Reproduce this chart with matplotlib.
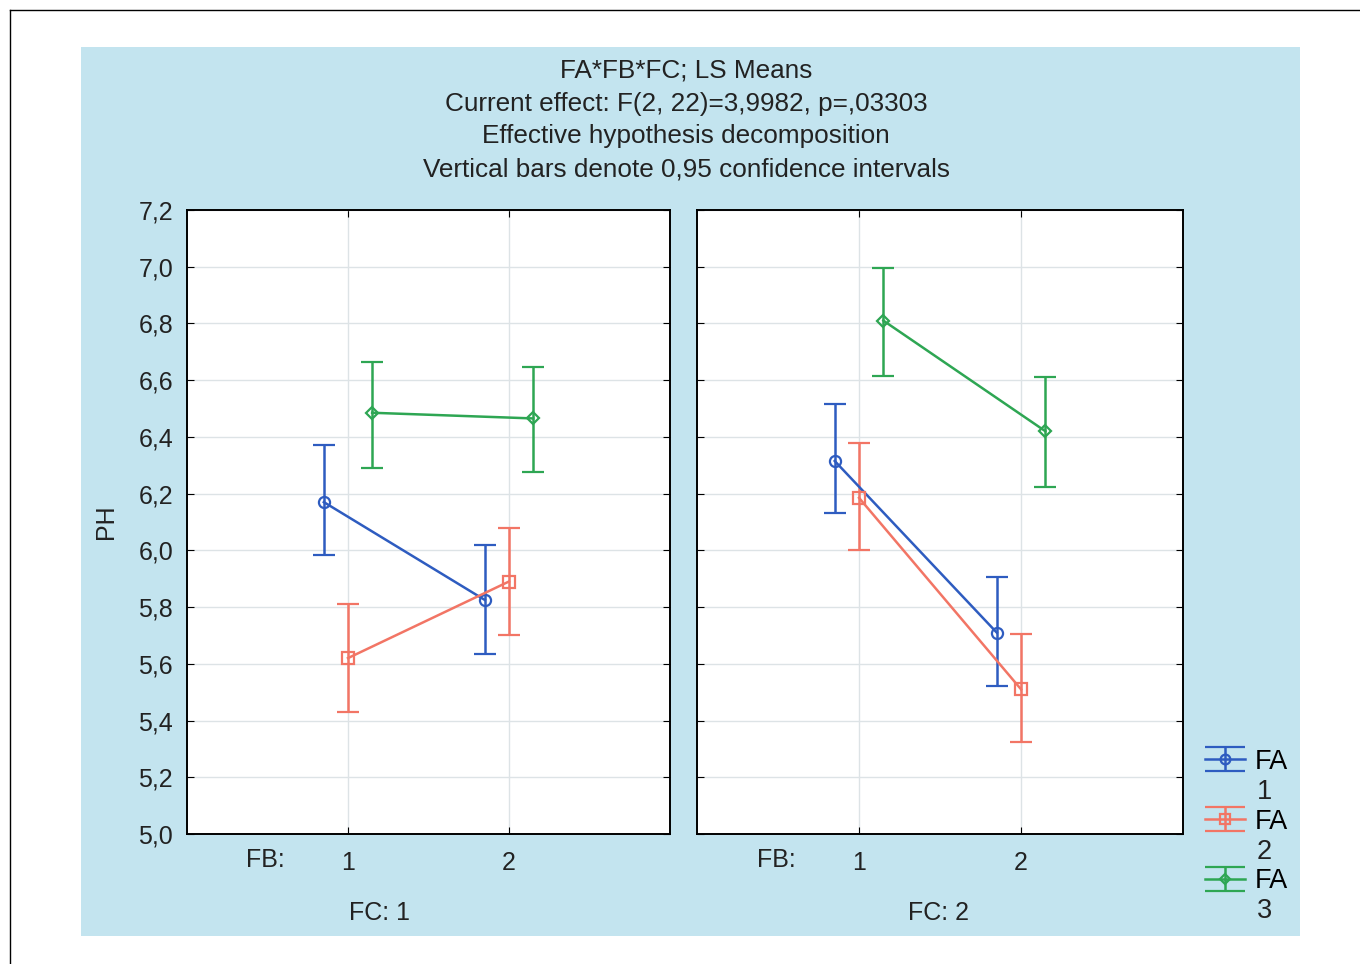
import numpy as np
import matplotlib.pyplot as plt
from matplotlib.lines import Line2D
from matplotlib.legend_handler import HandlerErrorbar

plt.rcParams['font.family'] = ['Liberation Sans', 'DejaVu Sans']

# Datos
fb_levels = [1, 2]
fc_levels = ["FC: 1", "FC: 2"]
fa_names = ["FA", "FA", "FA"]
fa_nums = ["1", "2", "3"]

# medias por FC -> FA -> FB
mean_fc1 = {"FA1": [6.17, 5.825], "FA2": [5.62, 5.89], "FA3": [6.485, 6.465]}
low_fc1 = {"FA1": [5.985, 5.635], "FA2": [5.43, 5.70], "FA3": [6.29, 6.275]}
up_fc1 = {"FA1": [6.37, 6.02], "FA2": [5.81, 6.08], "FA3": [6.665, 6.645]}

mean_fc2 = {"FA1": [6.315, 5.71], "FA2": [6.185, 5.51], "FA3": [6.81, 6.42]}
low_fc2 = {"FA1": [6.13, 5.52], "FA2": [6.0, 5.325], "FA3": [6.615, 6.225]}
up_fc2 = {"FA1": [6.515, 5.905], "FA2": [6.38, 5.705], "FA3": [6.995, 6.61]}

colores = {"FA1": "#2e5cc0", "FA2": "#f27565", "FA3": "#2ea653"}
marcadores = {"FA1": "o", "FA2": "s", "FA3": "D"}
desplaz = {"FA1": -0.15, "FA2": 0.0, "FA3": 0.15}

fondo = "#c3e4ef"
texto = "#222222"
fs = 18

fig = plt.figure(figsize=(13.6, 9.64), dpi=100)
fig.patch.set_facecolor("white")

# panel azul de fondo
bg = fig.add_axes([0.0596, 0.029, 0.8963, 0.9222], zorder=-5)
bg.set_facecolor(fondo)
bg.set_xticks([])
bg.set_yticks([])
for s in bg.spines.values():
    s.set_visible(False)

# borde negro
fig.lines.append(Line2D([0.0074, 1.0], [0.9896, 0.9896], transform=fig.transFigure,
                        color="black", lw=1.0))
fig.lines.append(Line2D([0.0074, 0.0074], [0.0, 0.9896], transform=fig.transFigure,
                        color="black", lw=1.0))

titulo = ("FA*FB*FC; LS Means\n"
          "Current effect: F(2, 22)=3,9982, p=,03303\n"
          "Effective hypothesis decomposition\n"
          "Vertical bars denote 0,95 confidence intervals")
fig.text(0.5045, 0.8755, titulo, ha="center", va="center", fontsize=18.8,
         linespacing=1.46, color=texto)

ax1 = fig.add_axes([0.1375, 0.1349, 0.3551, 0.6473])
ax2 = fig.add_axes([0.5125, 0.1349, 0.3574, 0.6473])

datos = [(ax1, mean_fc1, low_fc1, up_fc1), (ax2, mean_fc2, low_fc2, up_fc2)]
for ax, medias, bajos, altos in datos:
    ax.set_facecolor("white")
    ax.set_xlim(0, 3)
    ax.set_ylim(5.0, 7.2)
    ax.set_yticks(np.arange(5.0, 7.21, 0.2))
    ax.set_xticks(fb_levels)
    ax.grid(True, color="#dde3e6", lw=1.0)
    ax.set_axisbelow(True)
    for s in ax.spines.values():
        s.set_linewidth(1.4)
    ax.tick_params(axis="y", direction="in", length=5, right=True, labelsize=fs,
                   pad=10, labelcolor=texto)
    ax.tick_params(axis="x", direction="in", length=5, top=True, labelsize=fs,
                   pad=12, labelcolor=texto)
    for fa in ["FA1", "FA2", "FA3"]:
        x = np.array(fb_levels) + desplaz[fa]
        m = np.array(medias[fa])
        err = [m - np.array(bajos[fa]), np.array(altos[fa]) - m]
        ax.errorbar(x, m, yerr=err, color=colores[fa], marker=marcadores[fa],
                    ms=8 if fa != "FA3" else 6, mfc="none", mew=1.6,
                    lw=1.8, elinewidth=1.8, capsize=8, capthick=1.8)
    ax.text(0.163, -0.042, "FB:", transform=ax.transAxes, ha="center", va="center",
            fontsize=fs, color=texto)

ax1.yaxis.set_major_formatter(plt.FuncFormatter(lambda v, p: f"{v:.1f}".replace(".", ",")))
ax2.set_yticklabels([])
ax1.set_ylabel("PH", fontsize=fs, labelpad=15, color=texto)

fig.text(0.2787, 0.053, fc_levels[0], ha="center", va="center", fontsize=fs,
         color=texto)
fig.text(0.6904, 0.053, fc_levels[1], ha="center", va="center", fontsize=fs,
         color=texto)

# manijas de leyenda con topes anchos
hid = fig.add_axes([0, 0, 0.01, 0.01])
hid.set_visible(False)
handles = []
for fa in ["FA1", "FA2", "FA3"]:
    h = hid.errorbar([np.nan], [np.nan], yerr=[0.1], color=colores[fa],
                     marker=marcadores[fa], ms=7 if fa != "FA3" else 5, mfc="none",
                     mew=1.6, lw=1.8, elinewidth=1.8, capsize=14.4, capthick=1.8)
    handles.append(h)

leg = fig.legend(handles, fa_names, loc="upper left", bbox_to_anchor=(0.8723, 0.243),
                 frameon=False, fontsize=19.5, handlelength=1.48, handletextpad=0.35,
                 labelspacing=1.25, borderpad=0.2,
                 handler_map={type(handles[0]): HandlerErrorbar(yerr_size=0.44)})

# segunda línea de cada etiqueta (número de FA)
fig.canvas.draw()
for t, num in zip(leg.get_texts(), fa_nums):
    bb = t.get_window_extent()
    fig.text((bb.x0 + 2) / fig.bbox.width, (bb.y0 + bb.y1) / 2 / fig.bbox.height - 30 / fig.bbox.height,
             num, ha="left", va="center", fontsize=19.5, color=texto)

plt.savefig("out.png", dpi=100, facecolor=fig.get_facecolor())
